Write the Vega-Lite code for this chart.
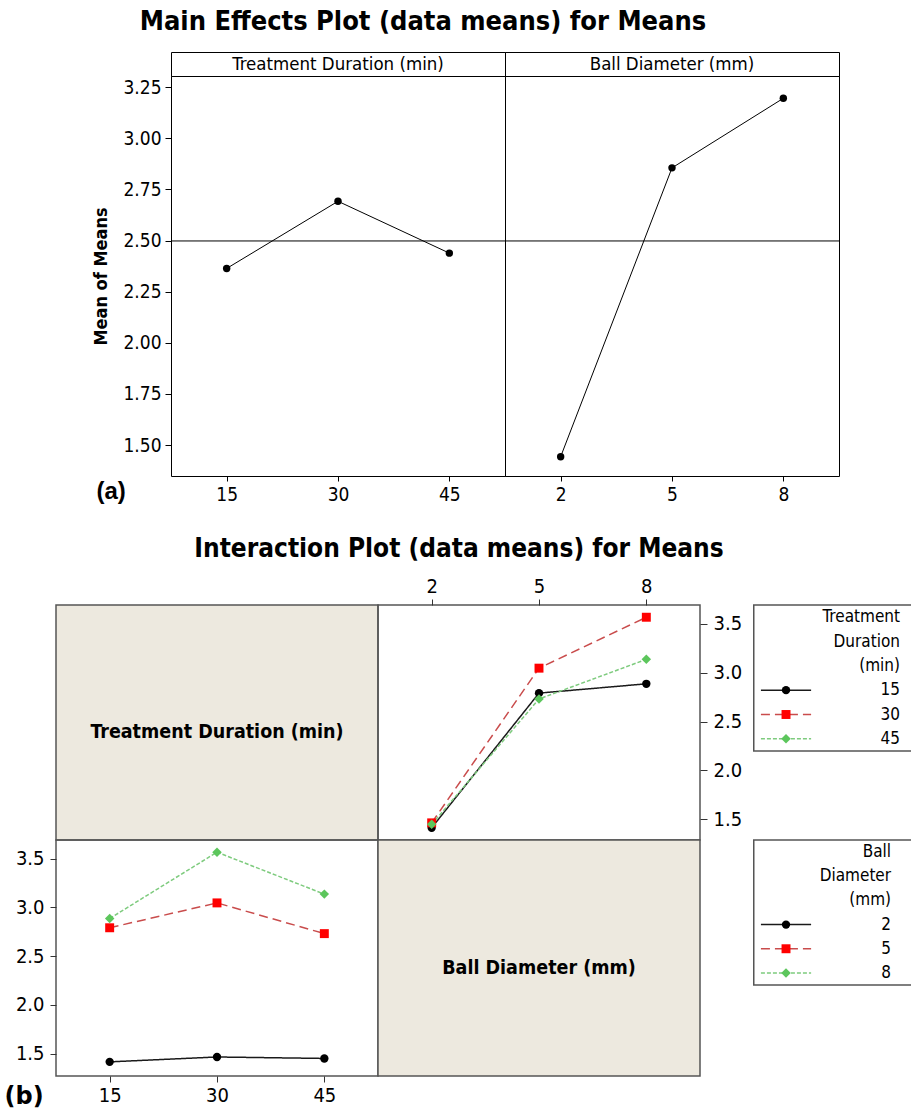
{
  "$schema": "https://vega.github.io/schema/vega-lite/v6.json",
  "padding": {"left": 3, "top": 7, "right": 0, "bottom": 0},
  "background": "white",
  "datasets": {
    "cells": [
      {"TD": 15, "BD": 2, "m": 1.415},
      {"TD": 15, "BD": 5, "m": 2.79},
      {"TD": 15, "BD": 8, "m": 2.885},
      {"TD": 30, "BD": 2, "m": 1.465},
      {"TD": 30, "BD": 5, "m": 3.045},
      {"TD": 30, "BD": 8, "m": 3.565},
      {"TD": 45, "BD": 2, "m": 1.45},
      {"TD": 45, "BD": 5, "m": 2.73},
      {"TD": 45, "BD": 8, "m": 3.135}
    ],
    "legendTD": [
      {"item": "Treatment", "kind": "title"},
      {"item": "Duration", "kind": "title"},
      {"item": "(min)", "kind": "title"},
      {"item": "15", "kind": "entry", "TD": 15},
      {"item": "30", "kind": "entry", "TD": 30},
      {"item": "45", "kind": "entry", "TD": 45}
    ],
    "legendBD": [
      {"item": "Ball", "kind": "title"},
      {"item": "Diameter", "kind": "title"},
      {"item": "(mm)", "kind": "title"},
      {"item": "2", "kind": "entry", "BD": 2},
      {"item": "5", "kind": "entry", "BD": 5},
      {"item": "8", "kind": "entry", "BD": 8}
    ]
  },
  "config": {
    "font": "DejaVu Sans Condensed, DejaVu Sans, sans-serif",
    "view": {"stroke": "black", "strokeWidth": 1},
    "axis": {"grid": false, "domain": false, "labelColor": "black", "tickColor": "black", "titleColor": "black", "labelFontSize": 19, "labelFontWeight": "normal"},
    "title": {"color": "black"}
  },
  "resolve": {"scale": {"stroke": "independent", "strokeDash": "independent", "fill": "independent", "shape": "independent", "size": "independent"}},
  "spacing": 31,
  "vconcat": [
    {
      "title": {"text": "Main Effects Plot (data means) for Means", "fontSize": 27, "fontWeight": "bold", "offset": 16, "anchor": "middle", "dx": -25},
      "columns": 3,
      "spacing": 0,
      "bounds": "flush",
      "concat": [
        {"width": 115, "height": 1, "data": {"values": []}, "mark": "point", "encoding": {}, "view": {"stroke": null}},
        {
          "width": 334, "height": 24,
          "data": {"values": [{"strip": "Treatment Duration (min)"}]},
          "mark": {"type": "text", "fontSize": 18.5, "baseline": "middle", "color": "black"},
          "encoding": {"text": {"field": "strip", "type": "nominal"}},
          "view": {"stroke": "black", "strokeWidth": 1}
        },
        {
          "width": 334, "height": 24,
          "data": {"values": [{"strip": "Ball Diameter (mm)"}]},
          "mark": {"type": "text", "fontSize": 18.5, "baseline": "middle", "color": "black"},
          "encoding": {"text": {"field": "strip", "type": "nominal"}},
          "view": {"stroke": "black", "strokeWidth": 1}
        },
        {"width": 115, "height": 1, "data": {"values": []}, "mark": "point", "encoding": {}, "view": {"stroke": null}},
        {
          "width": 334, "height": 400,
          "data": {"name": "cells"},
          "view": {"stroke": "black", "strokeWidth": 1},
          "encoding": {
            "y": {"aggregate": "mean", "field": "m", "type": "quantitative",
                  "scale": {"domain": [1.349, 3.304], "nice": false, "zero": false},
                  "axis": {"values": [1.5, 1.75, 2, 2.25, 2.5, 2.75, 3, 3.25], "format": ".2f", "title": "Mean of Means", "titleFontSize": 18, "titleFontWeight": "bold", "titlePadding": 12, "tickSize": 6, "labelPadding": 4}}
          },
          "layer": [
            {"mark": {"type": "rule", "color": "black", "strokeWidth": 1}, "encoding": {}},
            {
              "mark": {"type": "line", "color": "black", "strokeWidth": 1, "point": {"filled": true, "size": 55, "color": "black", "opacity": 1}},
              "encoding": {
                "x": {"field": "TD", "type": "quantitative", "scale": {"domain": [7.5, 52.5], "nice": false, "zero": false},
                      "axis": {"values": [15, 30, 45], "title": "(a)", "titleX": -75, "titleY": 3, "titleAlign": "left", "titleBaseline": "top", "titleAnchor": "start", "titleFontSize": 24, "titleFontWeight": "bold", "titleFont": "Liberation Sans, Arial, sans-serif", "tickSize": 5, "labelPadding": 4}}
              }
            }
          ]
        },
        {
          "width": 334, "height": 400,
          "data": {"name": "cells"},
          "view": {"stroke": "black", "strokeWidth": 1},
          "encoding": {
            "y": {"aggregate": "mean", "field": "m", "type": "quantitative",
                  "scale": {"domain": [1.349, 3.304], "nice": false, "zero": false},
                  "axis": null}
          },
          "layer": [
            {"mark": {"type": "rule", "color": "black", "strokeWidth": 1}, "encoding": {}},
            {
              "mark": {"type": "line", "color": "black", "strokeWidth": 1, "point": {"filled": true, "size": 55, "color": "black", "opacity": 1}},
              "encoding": {
                "x": {"field": "BD", "type": "quantitative", "scale": {"domain": [0.5, 9.5], "nice": false, "zero": false},
                      "axis": {"values": [2, 5, 8], "title": null, "tickSize": 5, "labelPadding": 4}}
              }
            }
          ]
        }
      ]
    },
    {
      "title": {"text": "Interaction Plot (data means) for Means", "fontSize": 26, "fontWeight": "bold", "offset": 13, "anchor": "middle", "dx": -5},
      "columns": 3,
      "spacing": 0,
      "bounds": "flush",
      "resolve": {"scale": {"stroke": "independent", "strokeDash": "independent", "fill": "independent", "shape": "independent", "size": "independent"}},
      "concat": [
        {
          "width": 322, "height": 235,
          "data": {"values": [{"factor": "Treatment Duration (min)"}]},
          "mark": {"type": "text", "fontSize": 19.5, "fontWeight": "bold", "baseline": "middle", "dy": 9, "color": "black"},
          "encoding": {"text": {"field": "factor", "type": "nominal"}},
          "view": {"fill": "#EDE9DF", "stroke": "#555555", "strokeWidth": 1.5}
        },
        {
          "width": 322, "height": 235,
          "data": {"name": "cells"},
          "view": {"stroke": "#555555", "strokeWidth": 1.5},
          "encoding": {
            "x": {"field": "BD", "type": "quantitative", "scale": {"domain": [0.5, 9.5], "nice": false, "zero": false},
                  "axis": {"orient": "top", "values": [2, 5, 8], "title": null, "tickSize": 6, "labelPadding": 3, "labelFontSize": 20, "tickColor": "#333333"}},
            "y": {"field": "m", "type": "quantitative", "scale": {"domain": [1.29, 3.69], "nice": false, "zero": false},
                  "axis": {"orient": "right", "values": [1.5, 2, 2.5, 3, 3.5], "format": ".1f", "title": null, "tickSize": 7, "labelPadding": 6, "labelFontSize": 20, "tickColor": "#333333"}}
          },
          "layer": [
            {
              "mark": {"type": "line", "strokeWidth": 1.5},
              "encoding": {
                "stroke": {"field": "TD", "type": "nominal", "scale": {"domain": [15, 30, 45], "range": ["#1a1a1a", "#C94C4C", "#7ECB7E"]}, "legend": null},
                "strokeDash": {"field": "TD", "type": "nominal", "scale": {"domain": [15, 30, 45], "range": [[1, 0], [9, 5], [4, 2]]}, "legend": null}
              }
            },
            {
              "mark": {"type": "point", "filled": true, "opacity": 1, "strokeWidth": 0},
              "encoding": {
                "fill": {"field": "TD", "type": "nominal", "scale": {"domain": [15, 30, 45], "range": ["#000000", "#FF0000", "#5CC65C"]}, "legend": null},
                "shape": {"field": "TD", "type": "nominal", "scale": {"domain": [15, 30, 45], "range": ["circle", "square", "diamond"]}, "legend": null},
                "size": {"field": "TD", "type": "ordinal", "scale": {"domain": [15, 30, 45], "range": [70, 90, 115]}, "legend": null}
              }
            }
          ]
        },
        {
          "width": 224, "height": 146,
          "view": {"stroke": null},
          "data": {"name": "legendTD"},
          "layer": [
            {
              "data": {"values": [{"legend": "Treatment Duration (min)"}]},
              "mark": {"type": "rect", "fill": "white", "stroke": "#555555", "strokeWidth": 1.5},
              "encoding": {
                "x": {"datum": 0.24, "type": "quantitative", "scale": {"domain": [0, 1]}, "axis": null},
                "x2": {"datum": 1}
              }
            },
            {
              "transform": [{"filter": "datum.kind === 'entry'"}],
              "mark": {"type": "rule", "strokeWidth": 1.5},
              "encoding": {
                "x": {"datum": 0.272, "type": "quantitative", "scale": {"domain": [0, 1]}, "axis": null},
                "x2": {"datum": 0.496},
                "y": {"field": "item", "type": "ordinal", "scale": {"type": "point", "domain": ["Treatment", "Duration", "(min)", "15", "30", "45"], "paddingOuter": 0.645}, "axis": null},
                "stroke": {"field": "TD", "type": "nominal", "scale": {"domain": [15, 30, 45], "range": ["#1a1a1a", "#C94C4C", "#7ECB7E"]}, "legend": null},
                "strokeDash": {"field": "TD", "type": "nominal", "scale": {"domain": [15, 30, 45], "range": [[1, 0], [9, 5], [4, 2]]}, "legend": null}
              }
            },
            {
              "transform": [{"filter": "datum.kind === 'entry'"}],
              "mark": {"type": "point", "filled": true, "opacity": 1, "strokeWidth": 0},
              "encoding": {
                "x": {"datum": 0.384, "type": "quantitative", "scale": {"domain": [0, 1]}, "axis": null},
                "y": {"field": "item", "type": "ordinal", "scale": {"type": "point", "domain": ["Treatment", "Duration", "(min)", "15", "30", "45"], "paddingOuter": 0.645}, "axis": null},
                "fill": {"field": "TD", "type": "nominal", "scale": {"domain": [15, 30, 45], "range": ["#000000", "#FF0000", "#5CC65C"]}, "legend": null},
                "shape": {"field": "TD", "type": "nominal", "scale": {"domain": [15, 30, 45], "range": ["circle", "square", "diamond"]}, "legend": null},
                "size": {"field": "TD", "type": "ordinal", "scale": {"domain": [15, 30, 45], "range": [70, 90, 115]}, "legend": null}
              }
            },
            {
              "mark": {"type": "text", "align": "right", "baseline": "middle", "fontSize": 17, "color": "black"},
              "encoding": {
                "x": {"datum": 0.893, "type": "quantitative", "scale": {"domain": [0, 1]}, "axis": null},
                "y": {"field": "item", "type": "ordinal", "scale": {"type": "point", "domain": ["Treatment", "Duration", "(min)", "15", "30", "45"], "paddingOuter": 0.645}, "axis": null},
                "text": {"field": "item", "type": "nominal"}
              }
            }
          ]
        },
        {
          "width": 322, "height": 236,
          "data": {"name": "cells"},
          "view": {"stroke": "#555555", "strokeWidth": 1.5},
          "encoding": {
            "x": {"field": "TD", "type": "quantitative", "scale": {"domain": [7.5, 52.5], "nice": false, "zero": false},
                  "axis": {"orient": "bottom", "values": [15, 30, 45], "title": "(b)", "titleX": -52, "titleY": 8, "titleAlign": "left", "titleBaseline": "top", "titleAnchor": "start", "titleFontSize": 24, "titleFontWeight": "bold", "titleFont": "DejaVu Sans, sans-serif", "tickSize": 6, "labelPadding": 3, "labelFontSize": 20, "tickColor": "#333333"}},
            "y": {"field": "m", "type": "quantitative", "scale": {"domain": [1.27, 3.69], "nice": false, "zero": false},
                  "axis": {"orient": "left", "values": [1.5, 2, 2.5, 3, 3.5], "format": ".1f", "title": null, "tickSize": 6, "labelPadding": 6, "labelFontSize": 20, "tickColor": "#333333"}}
          },
          "layer": [
            {
              "mark": {"type": "line", "strokeWidth": 1.5},
              "encoding": {
                "stroke": {"field": "BD", "type": "nominal", "scale": {"domain": [2, 5, 8], "range": ["#1a1a1a", "#C94C4C", "#7ECB7E"]}, "legend": null},
                "strokeDash": {"field": "BD", "type": "nominal", "scale": {"domain": [2, 5, 8], "range": [[1, 0], [9, 5], [4, 2]]}, "legend": null}
              }
            },
            {
              "mark": {"type": "point", "filled": true, "opacity": 1, "strokeWidth": 0},
              "encoding": {
                "fill": {"field": "BD", "type": "nominal", "scale": {"domain": [2, 5, 8], "range": ["#000000", "#FF0000", "#5CC65C"]}, "legend": null},
                "shape": {"field": "BD", "type": "nominal", "scale": {"domain": [2, 5, 8], "range": ["circle", "square", "diamond"]}, "legend": null},
                "size": {"field": "BD", "type": "ordinal", "scale": {"domain": [2, 5, 8], "range": [70, 90, 115]}, "legend": null}
              }
            }
          ]
        },
        {
          "width": 322, "height": 236,
          "data": {"values": [{"factor": "Ball Diameter (mm)"}]},
          "mark": {"type": "text", "fontSize": 19.5, "fontWeight": "bold", "baseline": "middle", "dy": 10, "color": "black"},
          "encoding": {"text": {"field": "factor", "type": "nominal"}},
          "view": {"fill": "#EDE9DF", "stroke": "#555555", "strokeWidth": 1.5}
        },
        {
          "width": 224, "height": 145,
          "view": {"stroke": null},
          "data": {"name": "legendBD"},
          "layer": [
            {
              "data": {"values": [{"legend": "Ball Diameter (mm)"}]},
              "mark": {"type": "rect", "fill": "white", "stroke": "#555555", "strokeWidth": 1.5},
              "encoding": {
                "x": {"datum": 0.24, "type": "quantitative", "scale": {"domain": [0, 1]}, "axis": null},
                "x2": {"datum": 1}
              }
            },
            {
              "transform": [{"filter": "datum.kind === 'entry'"}],
              "mark": {"type": "rule", "strokeWidth": 1.5},
              "encoding": {
                "x": {"datum": 0.272, "type": "quantitative", "scale": {"domain": [0, 1]}, "axis": null},
                "x2": {"datum": 0.496},
                "y": {"field": "item", "type": "ordinal", "scale": {"type": "point", "domain": ["Ball", "Diameter", "(mm)", "2", "5", "8"], "paddingOuter": 0.6}, "axis": null},
                "stroke": {"field": "BD", "type": "nominal", "scale": {"domain": [2, 5, 8], "range": ["#1a1a1a", "#C94C4C", "#7ECB7E"]}, "legend": null},
                "strokeDash": {"field": "BD", "type": "nominal", "scale": {"domain": [2, 5, 8], "range": [[1, 0], [9, 5], [4, 2]]}, "legend": null}
              }
            },
            {
              "transform": [{"filter": "datum.kind === 'entry'"}],
              "mark": {"type": "point", "filled": true, "opacity": 1, "strokeWidth": 0},
              "encoding": {
                "x": {"datum": 0.384, "type": "quantitative", "scale": {"domain": [0, 1]}, "axis": null},
                "y": {"field": "item", "type": "ordinal", "scale": {"type": "point", "domain": ["Ball", "Diameter", "(mm)", "2", "5", "8"], "paddingOuter": 0.6}, "axis": null},
                "fill": {"field": "BD", "type": "nominal", "scale": {"domain": [2, 5, 8], "range": ["#000000", "#FF0000", "#5CC65C"]}, "legend": null},
                "shape": {"field": "BD", "type": "nominal", "scale": {"domain": [2, 5, 8], "range": ["circle", "square", "diamond"]}, "legend": null},
                "size": {"field": "BD", "type": "ordinal", "scale": {"domain": [2, 5, 8], "range": [70, 90, 115]}, "legend": null}
              }
            },
            {
              "mark": {"type": "text", "align": "right", "baseline": "middle", "fontSize": 17, "color": "black"},
              "encoding": {
                "x": {"datum": 0.853, "type": "quantitative", "scale": {"domain": [0, 1]}, "axis": null},
                "y": {"field": "item", "type": "ordinal", "scale": {"type": "point", "domain": ["Ball", "Diameter", "(mm)", "2", "5", "8"], "paddingOuter": 0.6}, "axis": null},
                "text": {"field": "item", "type": "nominal"}
              }
            }
          ]
        }
      ]
    }
  ]
}
